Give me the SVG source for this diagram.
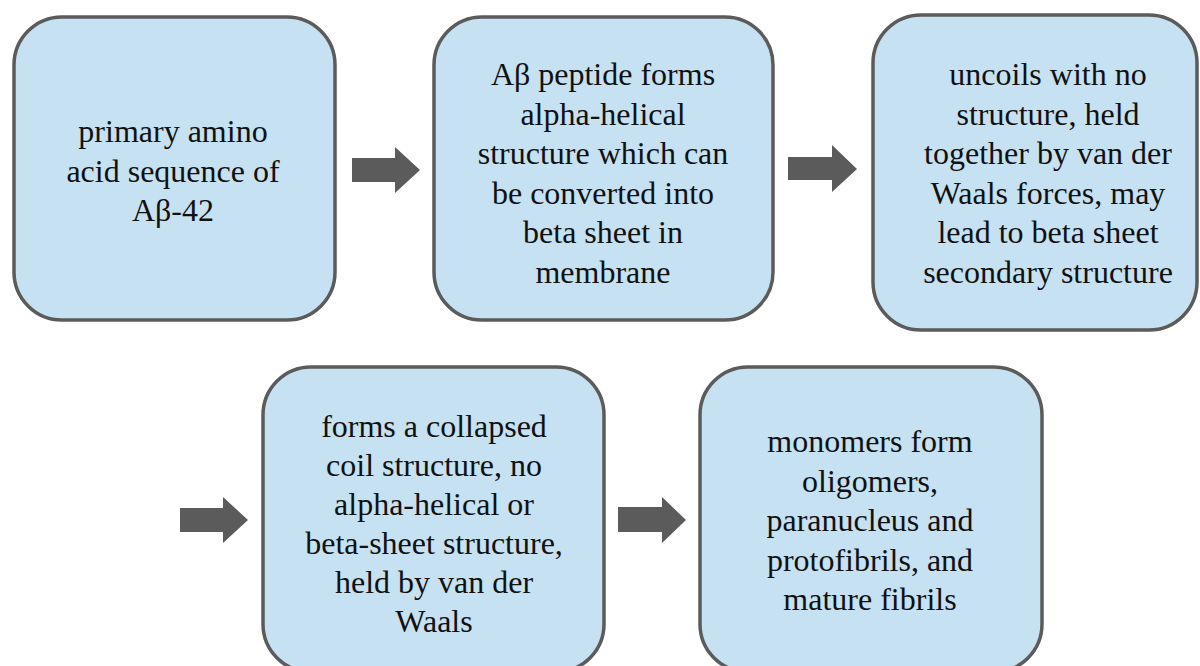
<svg xmlns="http://www.w3.org/2000/svg" width="1200" height="666" viewBox="0 0 1200 666">
<style>
.box{fill:#c6e1f2;stroke:#5b5b5b;stroke-width:3.5}
.t{font-family:"Liberation Serif","Times New Roman",serif;font-size:32px;fill:#111;text-anchor:middle}
.arr{fill:#5b5b5b}
</style>
<rect width="1200" height="666" fill="#ffffff"/>
<g id="node1">
<rect class="box" x="14" y="17" width="321" height="303" rx="48" ry="48"/>
<text class="t"><tspan x="173" y="142">primary amino</tspan><tspan x="173" y="181.5">acid sequence of</tspan><tspan x="173" y="221">Aβ-42</tspan></text>
</g>
<g id="node2">
<rect class="box" x="434" y="17" width="339" height="303" rx="48" ry="48"/>
<text class="t"><tspan x="603" y="85">Aβ peptide forms</tspan><tspan x="603" y="124.6">alpha-helical</tspan><tspan x="603" y="164.2">structure which can</tspan><tspan x="603" y="203.8">be converted into</tspan><tspan x="603" y="243.4">beta sheet in</tspan><tspan x="603" y="283">membrane</tspan></text>
</g>
<g id="node3">
<rect class="box" x="873" y="15" width="324" height="315" rx="48" ry="48"/>
<text class="t"><tspan x="1048" y="85">uncoils with no</tspan><tspan x="1048" y="124.6">structure, held</tspan><tspan x="1048" y="164.2">together by van der</tspan><tspan x="1048" y="203.8">Waals forces, may</tspan><tspan x="1048" y="243.4">lead to beta sheet</tspan><tspan x="1048" y="283">secondary structure</tspan></text>
</g>
<g id="node4">
<rect class="box" x="263" y="367" width="341" height="305" rx="48" ry="48"/>
<text class="t"><tspan x="434" y="437">forms a collapsed</tspan><tspan x="434" y="476">coil structure, no</tspan><tspan x="434" y="515">alpha-helical or</tspan><tspan x="434" y="554">beta-sheet structure,</tspan><tspan x="434" y="593">held by van der</tspan><tspan x="434" y="632">Waals</tspan></text>
</g>
<g id="node5">
<rect class="box" x="700" y="367" width="342" height="305" rx="48" ry="48"/>
<text class="t"><tspan x="870" y="452">monomers form</tspan><tspan x="870" y="491.5">oligomers,</tspan><tspan x="870" y="531">paranucleus and</tspan><tspan x="870" y="570.5">protofibrils, and</tspan><tspan x="870" y="610">mature fibrils</tspan></text>
</g>
<g id="connectors">
<path class="arr" d="M352 158H395V147L420 170L395 193V182H352Z"/>
<path class="arr" d="M788 157H832V145L857 169L832 192V180H788Z"/>
<path class="arr" d="M180 508H223V497L248 520L223 543V532H180Z"/>
<path class="arr" d="M618 507H662V497L686 520L662 543V532H618Z"/>
</g>
</svg>
